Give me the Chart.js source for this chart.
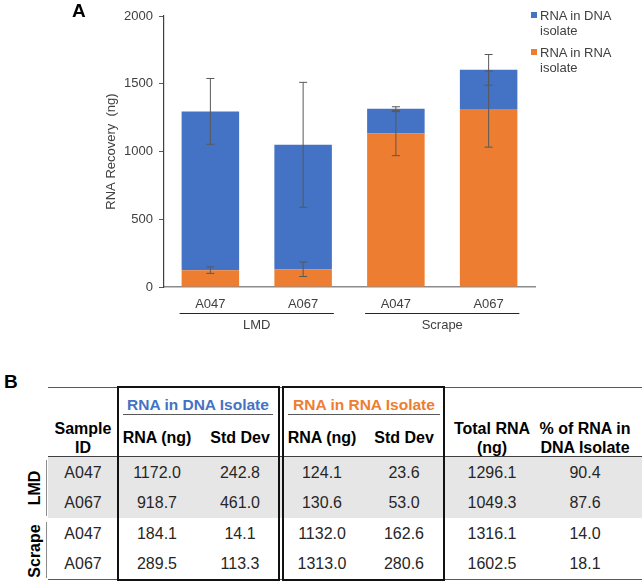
<!DOCTYPE html>
<html>
<head>
<meta charset="utf-8">
<script src="https://cdn.jsdelivr.net/npm/chart.js@4.4.0/dist/chart.umd.min.js"></script>
<style>
body { margin: 0; background: #fff; font-family: "Liberation Sans", Arial, sans-serif; }
#fig { position: relative; width: 644px; height: 583px; overflow: hidden; }
#chartBox { position: absolute; left: 0; top: 0; width: 644px; height: 340px; }
.abs { position: absolute; white-space: nowrap; }
.panel { font-weight: bold; font-size: 19px; color: #000; line-height: 20px; }
.leg { font-size: 13px; color: #404040; line-height: 15px; }
.sq { position: absolute; width: 6px; height: 6px; }
.cell { position: absolute; width: 110px; text-align: center; font-size: 16px; color: #262626; line-height: 20px; }
.hd { font-weight: bold; color: #000; line-height: 19px; }
.hline { position: absolute; height: 0; }
.box { position: absolute; border: 2px solid #111; box-sizing: border-box; }
</style>
</head>
<body>
<div id="fig">
  <div id="chartBox"><canvas id="chartA"></canvas></div>
  <div class="abs panel" style="left:72px;top:1px;">A</div>
  <div class="abs panel" style="left:4px;top:372px;">B</div>
  <div id="legend"></div>
  <div id="table"></div>
</div>
<script>
// sample data
const samples = ['A047', 'A067', 'A047', 'A067'];
const groups = ['LMD', 'LMD', 'Scrape', 'Scrape'];
const groupNames = ['LMD', 'Scrape'];
const rnaInDna = [1172.0, 918.7, 184.1, 289.5];
const rnaInDnaSd = [242.8, 461.0, 14.1, 113.3];
const rnaInRna = [124.1, 130.6, 1132.0, 1313.0];
const rnaInRnaSd = [23.6, 53.0, 162.6, 280.6];
const totalRna = [1296.1, 1049.3, 1316.1, 1602.5];
const pctInDna = [90.4, 87.6, 14.0, 18.1];
const yMin = 0, yMax = 2000, yStep = 500;

const blue = '#4472C4';
const orange = '#ED7D31';
const barPct = 0.62;

// error bars on top of each stacked segment
const errorBars = {
    id: 'errorBars',
    afterDatasetsDraw(chart) {
        const ctx = chart.ctx, y = chart.scales.y;
        const base = samples.map(() => 0);
        ctx.save();
        ctx.strokeStyle = '#595959';
        ctx.lineWidth = 1;
        chart.data.datasets.forEach((ds, d) => {
            const meta = chart.getDatasetMeta(d);
            ds.data.forEach((v, i) => {
                const top = base[i] + v;
                const x = meta.data[i].x;
                const y1 = y.getPixelForValue(top + ds.sd[i]);
                const y2 = y.getPixelForValue(top - ds.sd[i]);
                ctx.beginPath();
                ctx.moveTo(x, y1); ctx.lineTo(x, y2);
                ctx.moveTo(x - 4, y1); ctx.lineTo(x + 4, y1);
                ctx.moveTo(x - 4, y2); ctx.lineTo(x + 4, y2);
                ctx.stroke();
            });
            ds.data.forEach((v, i) => base[i] += v);
        });
        ctx.restore();
    }
};

// LMD / Scrape brackets under the axis
const groupLabels = {
    id: 'groupLabels',
    afterDraw(chart) {
        const ctx = chart.ctx, x = chart.scales.x, area = chart.chartArea;
        const half = (x.getPixelForValue(1) - x.getPixelForValue(0)) * barPct / 2 + 2;
        ctx.save();
        ctx.strokeStyle = '#262626';
        ctx.lineWidth = 1;
        ctx.fillStyle = '#404040';
        ctx.font = '13px "Liberation Sans", Arial, sans-serif';
        ctx.textAlign = 'center';
        ctx.textBaseline = 'middle';
        groupNames.forEach(name => {
            const idx = groups.map((g, i) => g === name ? i : -1).filter(i => i >= 0);
            const x0 = x.getPixelForValue(idx[0]) - half;
            const x1 = x.getPixelForValue(idx[idx.length - 1]) + half;
            ctx.beginPath();
            ctx.moveTo(x0, area.bottom + 26.5);
            ctx.lineTo(x1, area.bottom + 26.5);
            ctx.stroke();
            ctx.fillText(name, (x0 + x1) / 2, area.bottom + 38);
        });
        ctx.restore();
    }
};

new Chart(document.getElementById('chartA'), {
    type: 'bar',
    data: {
        labels: samples,
        datasets: [{
            label: 'RNA in RNA isolate',
            data: rnaInRna,
            sd: rnaInRnaSd,
            backgroundColor: orange
        }, {
            label: 'RNA in DNA isolate',
            data: rnaInDna,
            sd: rnaInDnaSd,
            backgroundColor: blue
        }]
    },
    options: {
        responsive: true,
        maintainAspectRatio: false,
        animation: false,
        layout: { padding: { left: 100, right: 109, top: 16, bottom: 0 } },
        datasets: { bar: { categoryPercentage: 1, barPercentage: barPct } },
        plugins: { legend: { display: false }, tooltip: { enabled: false } },
        scales: {
            x: {
                stacked: true,
                grid: { display: false },
                border: { display: true, color: '#8c8c8c', width: 1.5 },
                ticks: { color: '#404040', padding: 2, font: { size: 13, family: '"Liberation Sans", Arial' } },
                afterFit: s => { s.height = 53; }
            },
            y: {
                stacked: true,
                min: yMin, max: yMax,
                grid: { display: true, drawOnChartArea: false, drawTicks: true, tickLength: 5, color: '#595959' },
                border: { display: true, color: '#404040', width: 1.2 },
                ticks: { stepSize: yStep, color: '#404040', padding: 6, callback: v => String(v),
                         font: { size: 13, family: '"Liberation Sans", Arial' } },
                title: { display: true, text: 'RNA Recovery  (ng)', color: '#404040', padding: { top: 4, bottom: 4 },
                         font: { size: 13, family: '"Liberation Sans", Arial' } },
                afterFit: s => { s.width = 64; }
            }
        }
    },
    plugins: [errorBars, groupLabels]
});

// legend
const legendItems = [['RNA in DNA', 'isolate', blue, 8], ['RNA in RNA', 'isolate', orange, 45]];
let lh = '';
legendItems.forEach(([l1, l2, c, top]) => {
    lh += '<div class="sq" style="left:531px;top:' + (top + 4) + 'px;background:' + c + '"></div>';
    lh += '<div class="abs leg" style="left:540px;top:' + top + 'px;">' + l1 + '<br>' + l2 + '</div>';
});
document.getElementById('legend').innerHTML = lh;

// table B
const colX = [83, 157, 240, 322, 404, 492, 585];
const rowY = [473, 503, 534, 564];
let th = '';
th += '<div class="abs" style="left:48px;top:457px;width:594px;height:61px;background:#e7e6e6"></div>';
th += '<div class="hline" style="left:48px;top:387px;width:594px;border-top:1.5px solid #595959"></div>';
th += '<div class="hline" style="left:48px;top:456px;width:594px;border-top:1.5px solid #404040"></div>';
th += '<div class="hline" style="left:48px;top:579px;width:594px;border-top:1.5px solid #595959"></div>';
th += '<div class="hline" style="left:123px;top:414px;width:150px;border-top:1.5px solid #595959"></div>';
th += '<div class="hline" style="left:288px;top:414px;width:152px;border-top:1.5px solid #595959"></div>';
th += '<div class="box" style="left:117px;top:386px;width:163px;height:195px"></div>';
th += '<div class="box" style="left:282px;top:386px;width:163px;height:195px"></div>';
// group brackets
th += '<div class="abs" style="left:46px;top:460px;width:0;height:56px;border-left:1px solid #8c8c8c"></div>';
th += '<div class="abs" style="left:46px;top:522px;width:0;height:56px;border-left:1px solid #8c8c8c"></div>';

function cell(x, y, html, cls) {
    return '<div class="cell ' + (cls || '') + '" style="left:' + (x - 55) + 'px;top:' + (y - 10) + 'px;">' + html + '</div>';
}
th += '<div class="cell hd" style="left:' + (198 - 80) + 'px;width:160px;top:395px;color:' + blue + ';font-size:15.5px">RNA in DNA Isolate</div>';
th += '<div class="cell hd" style="left:' + (364 - 80) + 'px;width:160px;top:395px;color:' + orange + ';font-size:15.5px">RNA in RNA Isolate</div>';
const heads = ['Sample<br>ID', 'RNA (ng)', 'Std Dev', 'RNA (ng)', 'Std Dev', 'Total RNA<br>(ng)', '% of RNA in<br>DNA Isolate'];
heads.forEach((h, c) => {
    const two = h.indexOf('<br>') >= 0;
    th += '<div class="cell hd" style="left:' + (colX[c] - 55) + 'px;top:' + (two ? 419 : 428) + 'px;">' + h + '</div>';
});
samples.forEach((s, r) => {
    const vals = [s, rnaInDna[r].toFixed(1), rnaInDnaSd[r].toFixed(1), rnaInRna[r].toFixed(1),
                  rnaInRnaSd[r].toFixed(1), totalRna[r].toFixed(1), pctInDna[r].toFixed(1)];
    vals.forEach((v, c) => { th += cell(colX[c], rowY[r], v); });
});
// rotated group names
[['LMD', 488], ['Scrape', 551]].forEach(([g, y]) => {
    th += '<div class="abs" style="left:' + (35 - 40) + 'px;top:' + (y - 10) + 'px;width:80px;text-align:center;' +
          'font-weight:bold;font-size:16px;line-height:20px;color:#000;transform:rotate(-90deg)">' + g + '</div>';
});
document.getElementById('table').innerHTML = th;
</script>
</body>
</html>
